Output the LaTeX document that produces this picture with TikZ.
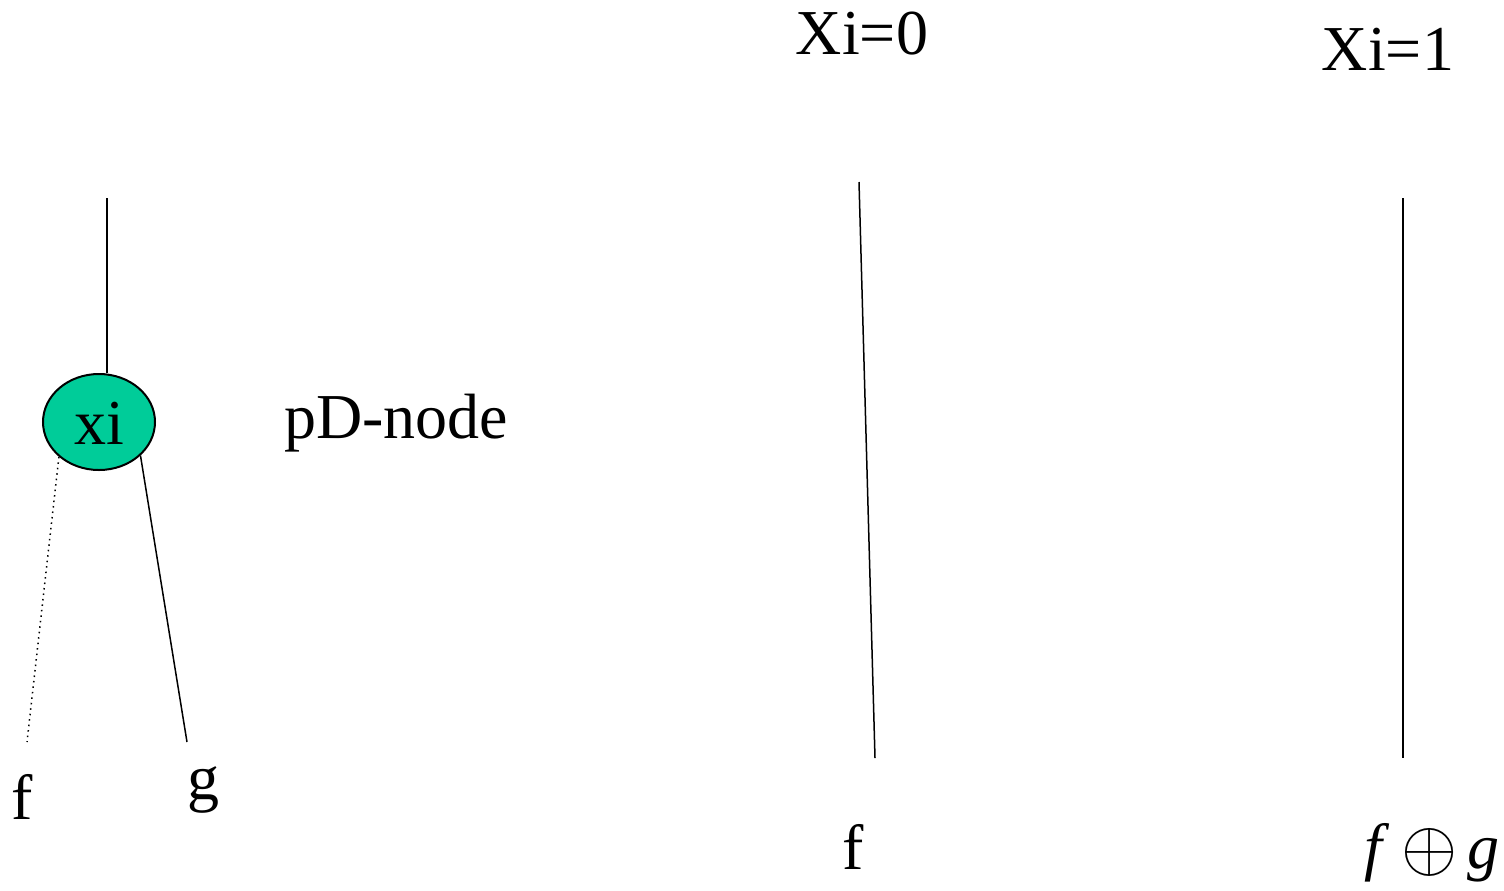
\documentclass[tikz,border=0pt]{standalone}
\usepackage{fontspec}
\setmainfont{Liberation Serif}
\usetikzlibrary{shapes.geometric}
\definecolor{nodegreen}{RGB}{0,204,153}
\begin{document}
\begin{tikzpicture}[x=0.5pt,y=-0.5pt,
  lbl/.style={inner sep=0pt,anchor=base,font=\fontsize{32}{38}\selectfont},
  wire/.style={line width=0.75pt},
  pdnode/.style={ellipse,draw,line width=1pt,fill=nodegreen,minimum width=56pt,minimum height=48pt,inner sep=0pt}]
\useasboundingbox (0,0) rectangle (1504,890);
% left: pD-node
\node[pdnode] (xi) at (99,422) {};
\node[lbl] (xilbl) at (99,444) {xi};
\coordinate (top) at (107,198);
\coordinate (fend) at (27,742);
\coordinate (gend) at (187,742);
\draw[wire] (top) -- (top |- xi.north);
\draw[wire,dotted] (xi.221) -- (fend);
\draw[wire] (xi.-39) -- (gend);
\node[lbl] (fleft) at (22,819) {f};
\node[lbl] (gleft) at (203,799) {g};
\node[lbl] (pd) at (396,438) {pD-node};
% Xi=0
\node[lbl] (x0) at (862,54) {Xi=0};
\coordinate (x0top) at (859,182);
\coordinate (x0bot) at (875,758);
\draw[wire] (x0top) -- (x0bot);
\node[lbl] (fmid) at (853,869) {f};
% Xi=1
\node[lbl] (x1) at (1388,70) {Xi=1};
\coordinate (x1top) at (1403,198);
\coordinate (x1bot) at (1403,758);
\draw[wire] (x1top) -- (x1bot);
\node[lbl] (fg) at (1432,868) {\textit{f}\hspace{6pt}\raisebox{-1pt}{\scalebox{1.45}{$\oplus$}}\hspace{5pt}\textit{g}};
\end{tikzpicture}
\end{document}
